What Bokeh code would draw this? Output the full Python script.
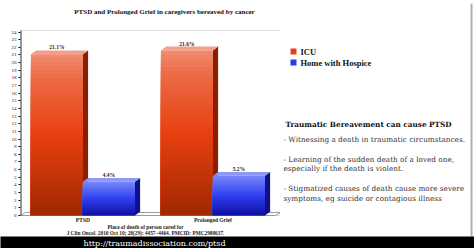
from bokeh.plotting import figure
from bokeh.models import Range1d, Label, FixedTicker, ColumnDataSource, Span, BoxAnnotation
from bokeh.layouts import column, row
from bokeh.embed import file_html
from bokeh.resources import INLINE
from bokeh.core.properties import value

# ---------------- data ----------------
categories = ["PTSD", "Prolonged Grief"]
series = ["ICU", "Home with Hospice"]
icu = [21.1, 21.6]
hospice = [4.4, 5.2]
y_ticks = list(range(0, 25))
chart_title = "PTSD and Prolonged Grief in caregivers bereaved by cancer"
x_title = ["Place of death of person cared for",
           "J Clin Oncol. 2010 Oct 10; 28(29): 4457\u20134464. PMCID: PMC2988637."]
side_title = "Traumatic Bereavement can cause PTSD"
side_lines = [
    "- Witnessing a death in traumatic circumstances.",
    "- Learning of the sudden death of a loved one,",
    "especially if the death is violent.",
    "- Stigmatized causes of death cause more severe",
    "symptoms, eg suicide or contagious illness",
]
url = "http://traumadissociation.com/ptsd"

# ---------------- styling ----------------
SERIF = "Liberation Serif"
BODY = "DejaVu Serif"
red_stops = [(0.0, (160, 40, 0)), (0.5, (232, 64, 16)), (0.85, (236, 106, 70)), (1.0, (240, 140, 112))]
blue_stops = [(0.0, (16, 16, 160)), (0.5, (47, 63, 240)), (1.0, (120, 136, 248))]
series_stops = [red_stops, blue_stops]
series_side = ["#8a1e00", "#10108a"]
series_top = ["#f4a088", "#8c98f8"]
series_legend = ["#e0401a", "#2040e8"]

TOP_STRIP = 3
BAND = 12
H = 248 - TOP_STRIP - BAND          # height of the middle row
BOX_TOP = 27                        # px (inside the middle row) of the value-axis top
ZERO_PX = 212                       # px (inside the middle row) of value 0
Y_MAX = 24.2
px_per_unit = (ZERO_PX - BOX_TOP) / Y_MAX
y_start = -(H - ZERO_PX) / px_per_unit
y_end = Y_MAX + BOX_TOP / px_per_unit


def interp(stops, f):
    for (f0, c0), (f1, c1) in zip(stops[:-1], stops[1:]):
        if f <= f1:
            t = (f - f0) / (f1 - f0) if f1 > f0 else 0
            return "#%02x%02x%02x" % tuple(int(round(a + (b - a) * t)) for a, b in zip(c0, c1))
    return "#%02x%02x%02x" % stops[-1][1]


def bare(fig, bg):
    fig.axis.visible = False
    fig.grid.visible = False
    fig.outline_line_color = None
    fig.background_fill_color = bg
    fig.border_fill_color = bg
    return fig


# ---------------- top strip ----------------
top = bare(figure(width=474, height=TOP_STRIP, x_range=Range1d(0, 1), y_range=Range1d(0, 1),
                  output_backend="svg", toolbar_location=None, min_border=0), "#1c1c1c")

# ---------------- chart ----------------
p = figure(width=280, height=H, x_range=Range1d(0, 2), y_range=Range1d(y_start, y_end),
           output_backend="svg", toolbar_location=None,
           min_border_left=20, min_border_right=0, min_border_top=0, min_border_bottom=0)
p.background_fill_color = "white"
p.border_fill_color = "white"
p.outline_line_color = None
p.xgrid.visible = False
p.ygrid.visible = False
p.xaxis.visible = False

# plot-area box
p.add_layout(BoxAnnotation(left=0, right=2, bottom=0, top=Y_MAX, fill_alpha=0,
                           line_color="#9a9a9a", line_width=1))

# chart title (above the box)
p.text(x=[1], y=[Y_MAX], text=[chart_title], x_offset=14, y_offset=-19,
       text_align="center", text_baseline="middle", text_font=value(SERIF),
       text_font_style="bold", text_font_size="7px", text_color="#111111")

group_center = [i + 0.48 for i in range(len(categories))]
bar_w = 0.4
offsets = [-0.2, 0.2]
dx, dy = 0.04, 0.5
N = 40
values = [icu, hospice]

# 3D floor
p.patch(x=[0, 2 - dx, 2, dx], y=[0, 0, dy * 0.8, dy * 0.8], fill_color="white",
        line_color="#9a9a9a", line_width=1)

# 3D side and top faces
for s, vals in enumerate(values):
    xs_side, ys_side, xs_top, ys_top = [], [], [], []
    for i, v in enumerate(vals):
        xc = group_center[i] + offsets[s]
        xl, xr = xc - bar_w / 2, xc + bar_w / 2
        xs_side.append([xr, xr + dx, xr + dx, xr])
        ys_side.append([0, dy, v + dy, v])
        xs_top.append([xl, xl + dx, xr + dx, xr])
        ys_top.append([v, v + dy, v + dy, v])
    p.patches(xs_side, ys_side, fill_color=series_side[s], line_color=None)
    p.patches(xs_top, ys_top, fill_color=series_top[s], line_color=None)

# front faces with a vertical gradient (stacked from the top down, no seams)
for s, vals in enumerate(values):
    xs, tops, colors = [], [], []
    for i, v in enumerate(vals):
        xc = group_center[i] + offsets[s]
        for k in reversed(range(N)):
            xs.append(xc)
            tops.append(v * (k + 1) / N)
            colors.append(interp(series_stops[s], (k + 0.5) / N))
    src = ColumnDataSource(dict(x=xs, top=tops, color=colors))
    p.vbar(x="x", bottom=0, top="top", width=bar_w, fill_color="color",
           line_color=None, source=src)

# value labels
for s, vals in enumerate(values):
    lx = [group_center[i] + offsets[s] for i in range(len(vals))]
    ly = [v + dy for v in vals]
    lt = ["%.1f%%" % v for v in vals]
    p.text(x=lx, y=ly, text=lt, text_align="center", text_baseline="bottom",
           text_font_size="5.5px", text_font_style="bold", text_color="#222222",
           text_font=value(SERIF))

# y axis line
p.segment(x0=[0], y0=[0], x1=[0], y1=[Y_MAX], line_color="#333333", line_width=2)

# y axis
p.yaxis.ticker = FixedTicker(ticks=y_ticks)
p.yaxis.major_label_text_font_size = "5px"
p.yaxis.major_label_text_font = SERIF
p.yaxis.major_label_text_color = "#222222"
p.yaxis.major_tick_out = 2
p.yaxis.major_tick_in = 0
p.yaxis.minor_tick_line_color = None
p.yaxis.major_label_standoff = 2
p.yaxis.axis_line_color = None

# category labels and x-axis title (below the value 0 line)
p.text(x=group_center, y=[0] * len(categories), text=categories, y_offset=1,
       text_align="center", text_baseline="top", text_font_size="5.5px",
       text_font_style="bold", text_color="#222222", text_font=value(SERIF))
p.text(x=[1, 1], y=[0, 0], text=x_title, x_offset=-5, y_offset=[8, 14],
       text_align="center", text_baseline="top", text_font_size="5.3px",
       text_font_style="bold", text_color="#222222", text_font=value(SERIF))

# ---------------- right panel (legend + notes), data units = page pixels ----------------
r = bare(figure(width=194, height=H, x_range=Range1d(280, 474),
                y_range=Range1d(TOP_STRIP + H, TOP_STRIP),
                output_backend="svg", toolbar_location=None, min_border=0), "white")
r.add_layout(Span(location=471, dimension="height", line_color="#b0b0b0", line_width=2))

legend_y = [51, 62]
r.rect(x=[293, 293], y=legend_y, width=6, height=6, width_units="screen",
       height_units="screen", fill_color=series_legend, line_color=None)
r.text(x=[300, 300], y=legend_y, text=series, text_align="left", text_baseline="middle",
       text_font=value(SERIF), text_font_style="bold", text_font_size="8.5px",
       text_color="#111111")

r.text(x=[285], y=[124], text=[side_title], text_align="left", text_baseline="middle",
       text_font=value(BODY), text_font_style="bold", text_font_size="7.3px",
       text_color="#111111")
r.text(x=[283] * len(side_lines), y=[139, 159, 168, 188, 198], text=side_lines,
       text_align="left", text_baseline="middle", text_font=value(BODY),
       text_font_size="7.3px", text_color="#333333")

# ---------------- bottom url band ----------------
b = bare(figure(width=474, height=BAND, x_range=Range1d(0, 474), y_range=Range1d(0, BAND),
                output_backend="svg", toolbar_location=None, min_border=0), "#000000")
b.add_layout(Label(x=83, y=5.5, text=url, text_align="left", text_baseline="middle",
                   text_font=BODY, text_font_size="8px", text_color="#ffffff"))

layout = column(top, row(p, r, spacing=0), b, spacing=0)
open("out.html", "w").write(file_html(layout, INLINE))
